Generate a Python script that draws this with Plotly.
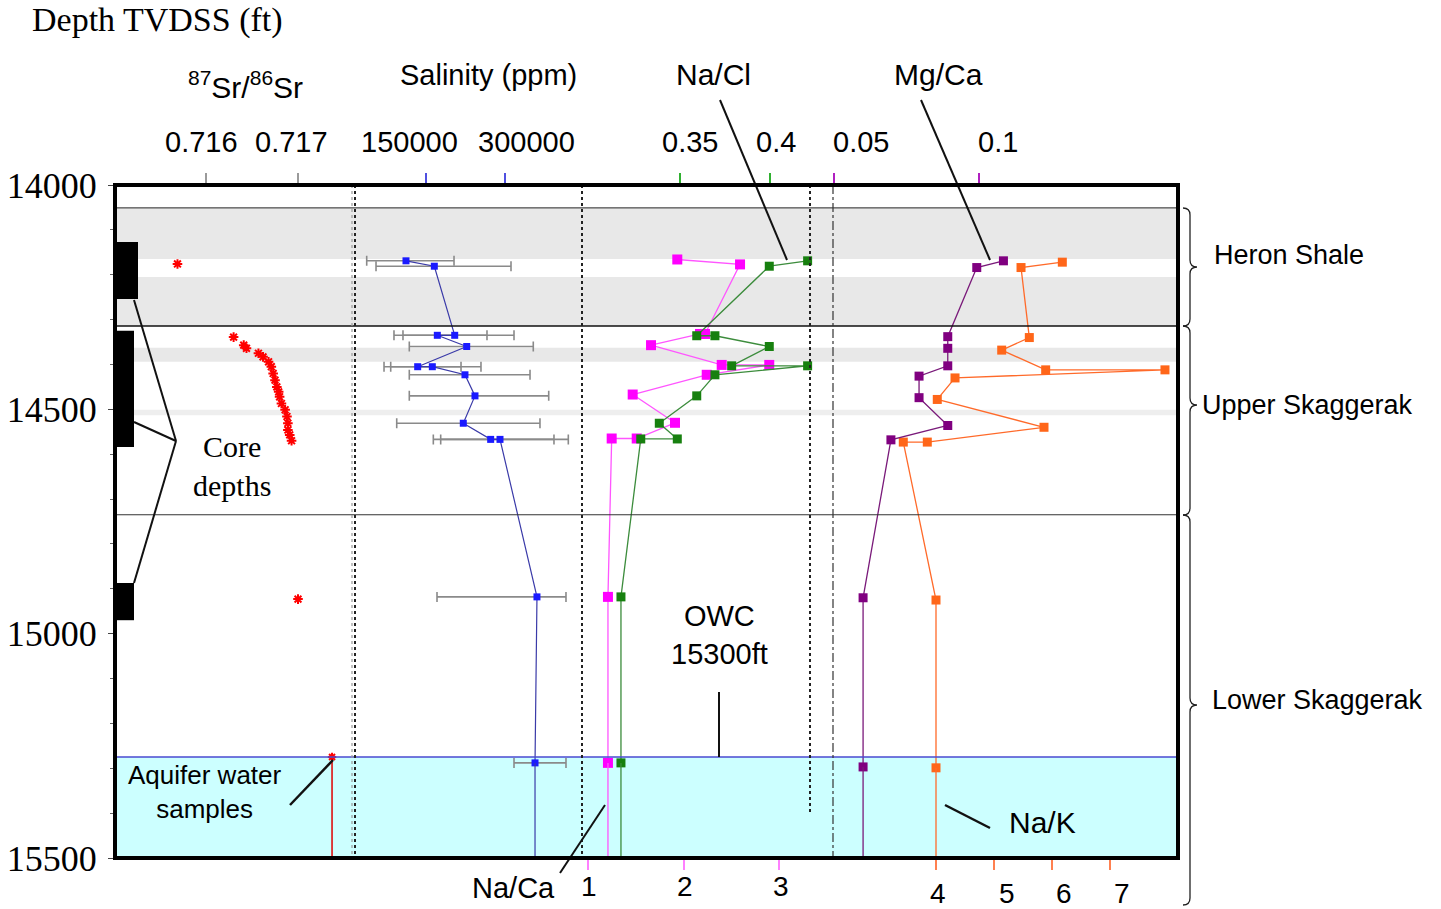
import plotly.graph_objects as go

# ---------------- data ----------------
sr_depth = [14176, 14339, 14357, 14364, 14375, 14383, 14394, 14405, 14420, 14435, 14450,
            14461, 14472, 14487, 14501, 14516, 14531, 14546, 14557, 14570, 14923]
sr_ratio = [0.71569, 0.71630, 0.71641, 0.71644, 0.71657, 0.71662, 0.71668, 0.71671, 0.71673,
            0.71675, 0.71677, 0.71679, 0.71680, 0.71682, 0.71686, 0.71688, 0.71689, 0.71689,
            0.71691, 0.71693, 0.71700]
sr_aquifer_depth = [15275, 15500]
sr_aquifer_ratio = [0.71737, 0.71737]

sal_depth = [14169, 14181, 14335, 14335, 14360, 14405, 14405, 14423, 14470, 14531, 14567, 14567, 14918, 15288]
sal_ppm = [112000, 165800, 204500, 171500, 227300, 134200, 162000, 224000, 243000, 220800, 272800, 290500, 360700, 357000]
sal_low = [37400, 55100, 106300, 89200, 118300, 70300, 83000, 118300, 118300, 94400, 163900, 177900, 170900, 317100]
sal_high = [203200, 311400, 317100, 265800, 353700, 216500, 254400, 347500, 383000, 366400, 393000, 420200, 415800, 415800]

nacl_depth = [14169, 14181, 14336, 14336, 14360, 14403, 14403, 14423, 14470, 14531, 14566, 14566, 14918, 15288]
nacl_ratio = [0.4209, 0.3996, 0.3593, 0.3694, 0.3996, 0.3787, 0.4209, 0.3694, 0.3593, 0.3385, 0.3485, 0.3282, 0.3172, 0.3172]

naca_depth = [14166, 14177, 14332, 14332, 14357, 14401, 14401, 14423, 14467, 14530, 14565, 14565, 14918, 15288]
naca_ratio = [1.935, 2.592, 2.225, 2.173, 1.660, 2.400, 2.898, 2.243, 1.468, 1.911, 1.510, 1.248, 1.209, 1.209]

mgca_depth = [14169, 14184, 14338, 14364, 14403, 14426, 14474, 14536, 14568, 14920, 15297]
mgca_ratio = [0.1086, 0.0994, 0.0894, 0.0894, 0.0894, 0.0795, 0.0795, 0.0894, 0.0698, 0.0602, 0.0602]

nak_depth = [14172, 14184, 14340, 14368, 14412, 14412, 14430, 14478, 14540, 14573, 14573, 14925, 15299]
nak_ratio = [6.178, 5.466, 5.609, 5.133, 5.891, 7.948, 4.328, 4.022, 5.862, 3.850, 3.436, 4.0, 4.0]

core_top = [14127, 14325, 14887]
core_base = [14254, 14584, 14970]

depth_ticks = [14000, 14500, 15000, 15500]
depth_labels = ["14000", "14500", "15000", "15500"]
sr_ticks = [0.716, 0.717]
sr_labels = ["0.716", "0.717"]
sal_ticks = [150000, 300000]
sal_labels = ["150000", "300000"]
nacl_ticks = [0.35, 0.4]
nacl_labels = ["0.35", "0.4"]
mgca_ticks = [0.05, 0.1]
mgca_labels = ["0.05", "0.1"]
naca_ticks = [1, 2, 3]
naca_labels = ["1", "2", "3"]
nak_ticks = [4, 5, 6, 7]
nak_labels = ["4", "5", "6", "7"]

heron_top, heron_base = 14051, 14314
upper_base = 14735
aquifer_top = 15275
depth_min, depth_max = 14000, 15500

# ---------------- geometry ----------------
FIG_W, FIG_H = 1441, 909
L, R, T, B = 115, 1178, 185, 858
W, H = R - L, B - T
SANS = "Liberation Sans"
SERIF = "Liberation Serif"


def px(x):
    return (x - L) / W


def py(y):
    return (B - y) / H


def rng(v1, p1, v2, p2):
    s = (p2 - p1) / (v2 - v1)
    a = v1 - (p1 - L) / s
    return [a, a + W / s]


fig = go.Figure()

# Sr
fig.add_trace(go.Scatter(x=sr_ratio, y=sr_depth, xaxis="x3", yaxis="y", mode="markers",
                         marker=dict(symbol="asterisk", size=8, color="red",
                                     line=dict(color="red", width=2)),
                         showlegend=False))
fig.add_trace(go.Scatter(x=sr_aquifer_ratio, y=sr_aquifer_depth, xaxis="x3", yaxis="y",
                         mode="lines", line=dict(color="#e00000", width=1.5), showlegend=False))
fig.add_trace(go.Scatter(x=sr_aquifer_ratio[:1], y=sr_aquifer_depth[:1], xaxis="x3", yaxis="y",
                         mode="markers", marker=dict(symbol="asterisk", size=7, color="red",
                                                     line=dict(color="red", width=2)),
                         showlegend=False))

# Salinity
err_plus = [h - v for h, v in zip(sal_high, sal_ppm)]
err_minus = [v - l for l, v in zip(sal_low, sal_ppm)]
fig.add_trace(go.Scatter(x=sal_ppm, y=sal_depth, xaxis="x4", yaxis="y", mode="lines+markers",
                         line=dict(color="#3a3aa8", width=1.2),
                         marker=dict(symbol="square", size=7, color="#1a1aff"),
                         error_x=dict(type="data", symmetric=False, array=err_plus,
                                      arrayminus=err_minus, color="#8a8a8a", thickness=1.6, width=5),
                         showlegend=False))
fig.add_trace(go.Scatter(x=[sal_ppm[-1], sal_ppm[-1]], y=[sal_depth[-1], depth_max], xaxis="x4",
                         yaxis="y", mode="lines", line=dict(color="#3a3aa8", width=1.2),
                         showlegend=False))

# Na/Cl
fig.add_trace(go.Scatter(x=nacl_ratio, y=nacl_depth, xaxis="x5", yaxis="y", mode="lines+markers",
                         line=dict(color="#3c8c3c", width=1.3),
                         marker=dict(symbol="square", size=9, color="#17800f"),
                         showlegend=False))
fig.add_trace(go.Scatter(x=[nacl_ratio[-1], nacl_ratio[-1]], y=[nacl_depth[-1], depth_max], xaxis="x5",
                         yaxis="y", mode="lines", line=dict(color="#3c8c3c", width=1.3),
                         showlegend=False))

# Na/Ca
fig.add_trace(go.Scatter(x=naca_ratio, y=naca_depth, xaxis="x", yaxis="y", mode="lines+markers",
                         line=dict(color="#ff55ff", width=1.3),
                         marker=dict(symbol="square", size=10, color="#ff00ff"),
                         showlegend=False))
fig.add_trace(go.Scatter(x=[naca_ratio[-1], naca_ratio[-1]], y=[naca_depth[-1], depth_max], xaxis="x",
                         yaxis="y", mode="lines", line=dict(color="#ff55ff", width=1.3),
                         showlegend=False))

# Mg/Ca
fig.add_trace(go.Scatter(x=mgca_ratio, y=mgca_depth, xaxis="x6", yaxis="y", mode="lines+markers",
                         line=dict(color="#7a1a7a", width=1.3),
                         marker=dict(symbol="square", size=9, color="#800080"),
                         showlegend=False))
fig.add_trace(go.Scatter(x=[mgca_ratio[-1], mgca_ratio[-1]], y=[mgca_depth[-1], depth_max], xaxis="x6",
                         yaxis="y", mode="lines", line=dict(color="#7a1a7a", width=1.3),
                         showlegend=False))

# Na/K
fig.add_trace(go.Scatter(x=nak_ratio, y=nak_depth, xaxis="x2", yaxis="y", mode="lines+markers",
                         line=dict(color="#ff6a2a", width=1.3),
                         marker=dict(symbol="square", size=9, color="#ff6619"),
                         showlegend=False))
fig.add_trace(go.Scatter(x=[nak_ratio[-1], nak_ratio[-1]], y=[nak_depth[-1], depth_max], xaxis="x2",
                         yaxis="y", mode="lines", line=dict(color="#ff6a2a", width=1.3),
                         showlegend=False))

# ---------------- shapes ----------------
shapes = []


def band(d0, d1, color):
    shapes.append(dict(type="rect", xref="paper", yref="y", x0=0, x1=1, y0=d0, y1=d1,
                       fillcolor=color, line=dict(width=0), layer="below"))


band(heron_top, 14165, "#e8e8e8")
band(14205, heron_base, "#e8e8e8")
band(14363, 14394, "#e8e8e8")
band(14501, 14513, "#eeeeee")
band(aquifer_top, depth_max, "#ccffff")


def hline(d, color, width):
    shapes.append(dict(type="line", xref="paper", yref="y", x0=0, x1=1, y0=d, y1=d,
                       line=dict(color=color, width=width)))


hline(heron_top, "#222222", 1)
hline(heron_base, "#111111", 1.5)
hline(upper_base, "#333333", 1.2)
hline(aquifer_top, "#4a4ad0", 1.5)


def pline(x0, y0, x1, y1, color="#111111", width=2, dash=None):
    ln = dict(color=color, width=width)
    if dash:
        ln["dash"] = dash
    shapes.append(dict(type="line", xref="paper", yref="paper", x0=px(x0), y0=py(y0),
                       x1=px(x1), y1=py(y1), line=ln))


# dotted track separators
pline(352, T, 352, B, "#9a9a9a", 1.2, "dot")
pline(355, T, 355, B, "#222222", 2, "dot")
pline(582, T, 582, B, "#222222", 2, "dot")
pline(810, T, 810, 815, "#222222", 2, "dot")
pline(833, T, 833, B, "#333333", 1.2, "dashdot")

# core bars
for ct, cb, xr in zip(core_top, core_base, [138, 134, 134]):
    shapes.append(dict(type="rect", xref="paper", yref="y", x0=0, x1=px(xr), y0=ct, y1=cb,
                       fillcolor="black", line=dict(width=0)))

# core depth pointers
pline(134, 300, 176, 441, width=2)
pline(134, 422, 176, 441, width=2)
pline(176, 441, 134, 583, width=2)

# other pointers
pline(720, 100, 787, 260, width=2)
pline(921, 100, 990, 260, width=2)
pline(290, 805, 333, 760, width=2.5)
pline(560, 873, 605, 805, width=2)
pline(945, 805, 990, 828, width=2.5)
pline(719, 692, 719, 757, width=2)

# border box
shapes.append(dict(type="rect", xref="paper", yref="paper", x0=0, x1=1, y0=0, y1=1,
                   line=dict(color="black", width=4), fillcolor="rgba(0,0,0,0)"))


def brace(y0, y1, ym, x0=1183, x1=1190, x2=1197):
    pts = lambda x, y: f"{px(x)},{py(y)}"
    return ("M " + pts(x0, y0) + " Q " + pts(x1, y0) + " " + pts(x1, y0 + 7) +
            " L " + pts(x1, ym - 7) + " Q " + pts(x1, ym) + " " + pts(x2, ym) +
            " Q " + pts(x1, ym) + " " + pts(x1, ym + 7) +
            " L " + pts(x1, y1 - 7) + " Q " + pts(x1, y1) + " " + pts(x0, y1))


for y0, y1, ym in [(208, 326, 267), (326, 515, 405), (515, 905, 705)]:
    shapes.append(dict(type="path", xref="paper", yref="paper", path=brace(y0, y1, ym),
                       line=dict(color="#222222", width=1.3)))

# ---------------- annotations ----------------
ann = []


def text(x, y, s, size=30, family=SANS, xanchor="center"):
    ann.append(dict(x=px(x), y=py(y), xref="paper", yref="paper", text=s, showarrow=False,
                    xanchor=xanchor, yanchor="middle",
                    font=dict(family=family, size=size, color="black")))


def ticklabels(xref, vals, labels, shifts, y, size=29):
    for v, lab, sh in zip(vals, labels, shifts):
        ann.append(dict(x=v, y=py(y), xref=xref, yref="paper", text=lab, showarrow=False,
                        xanchor="center", yanchor="middle", xshift=sh,
                        font=dict(family=SANS, size=size, color="black")))


text(157, 20, "Depth TVDSS (ft)", 34, SERIF)
text(245, 85, "<sup>87</sup>Sr/<sup>86</sup>Sr", 30)
text(488, 75, "Salinity (ppm)", 29)
text(713, 75, "Na/Cl", 30)
text(938, 75, "Mg/Ca", 30)
text(1212, 255, "Heron Shale", 27, xanchor="left")
text(1200, 405, "Upper Skaggerak", 27, xanchor="left")
text(1210, 700, "Lower Skaggerak", 27, xanchor="left")
text(232, 466, "Core<br>depths", 30, SERIF)
text(719, 635, "OWC<br>15300ft", 29)
text(205, 792, "Aquifer water<br>samples", 26)
text(513, 888, "Na/Ca", 29)
text(1042, 822, "Na/K", 30)

ticklabels("x3", sr_ticks, sr_labels, [-5, -7], 142)
ticklabels("x4", sal_ticks, sal_labels, [-17, 21], 142)
ticklabels("x5", nacl_ticks, nacl_labels, [10, 6], 142)
ticklabels("x6", mgca_ticks, mgca_labels, [27, 19], 142)
ticklabels("x", naca_ticks, naca_labels, [1, 1, 2], 886, 28)
ticklabels("x2", nak_ticks, nak_labels, [2, 13, 12, 12], 893, 28)

# ---------------- axes ----------------
def xax(r, tickvals, tickcolor, side, overlay=True):
    d = dict(range=r, tickvals=tickvals, showticklabels=False, automargin=False,
             tickcolor=tickcolor, side=side, anchor="y", showgrid=False, zeroline=False,
             showline=False, ticks="outside", ticklen=11, tickwidth=1.5, fixedrange=True)
    if overlay:
        d["overlaying"] = "x"
    return d


fig.update_layout(
    width=FIG_W, height=FIG_H,
    margin=dict(l=L, r=FIG_W - R, t=T, b=FIG_H - B, pad=0, autoexpand=False),
    paper_bgcolor="white", plot_bgcolor="white",
    showlegend=False,
    xaxis=xax(rng(1, 588, 3, 779), naca_ticks, "#ff80ff", "bottom", overlay=False),
    xaxis2=xax(rng(4, 936, 7, 1110), nak_ticks, "#ff8050", "bottom"),
    xaxis3=xax(rng(0.716, 206, 0.717, 298), sr_ticks, "#9a9a9a", "top"),
    xaxis4=xax(rng(150000, 426, 300000, 505), sal_ticks, "#5050e0", "top"),
    xaxis5=xax(rng(0.35, 680, 0.4, 770), nacl_ticks, "#30b030", "top"),
    xaxis6=xax(rng(0.05, 833.5, 0.1, 978.5), mgca_ticks, "#b020c0", "top"),
    yaxis=dict(range=[depth_max, depth_min], tickvals=depth_ticks, ticktext=depth_labels,
               automargin=False, showgrid=False, zeroline=False,
               showline=True, linecolor="black", linewidth=1, ticks="outside", ticklen=6,
               tickcolor="#444444", ticklabelstandoff=4,
               minor=dict(ticks="outside", dtick=100, ticklen=4, tickcolor="#666666"),
               tickfont=dict(family=SERIF, size=36, color="black"), fixedrange=True),
    shapes=shapes,
    annotations=ann,
)

fig.write_html("out.html")
